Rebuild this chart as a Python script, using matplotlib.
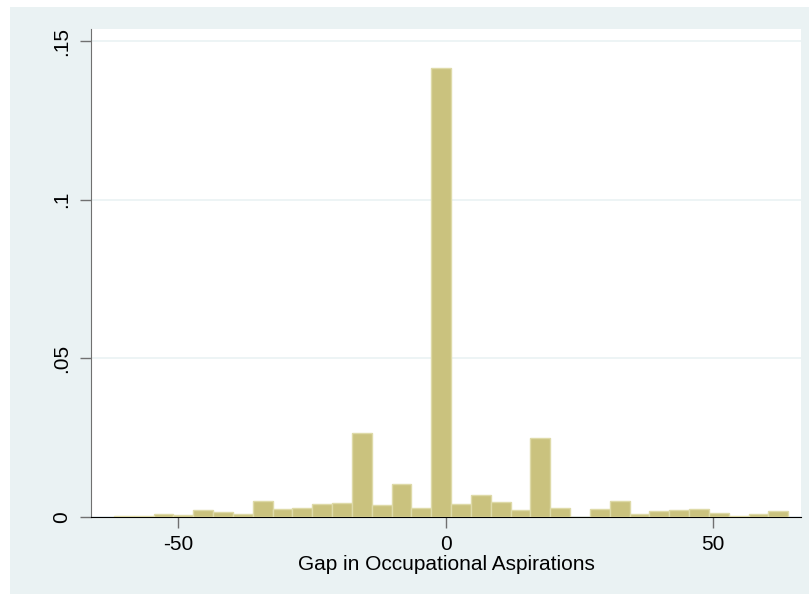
import numpy as np
import matplotlib
matplotlib.use("Agg")
import matplotlib.pyplot as plt
from matplotlib.patches import Rectangle

# histogram of the gap, 34 bins from -62 to 64
bin_lo = -62
bin_hi = 64
densite = [0.0003, 0.0003, 0.0008, 0.0004, 0.0021, 0.0015, 0.0008, 0.0051,
           0.0023, 0.0027, 0.0040, 0.0042, 0.0264, 0.0038, 0.0103, 0.0029,
           0.1414, 0.0040, 0.0068, 0.0046, 0.0021, 0.0248, 0.0029, 0.0,
           0.0023, 0.0049, 0.0007, 0.0017, 0.0020, 0.0025, 0.0013, 0.0002,
           0.0007, 0.0017]
xticks = [-50, 0, 50]
yticks = [0, 0.05, 0.1, 0.15]
yticklabels = ["0", ".05", ".1", ".15"]

plt.rcParams['font.family'] = ['Liberation Sans', 'DejaVu Sans']
plt.rcParams['axes.unicode_minus'] = False

fig = plt.figure(figsize=(8.09, 5.94), dpi=100)
fig.patch.set_facecolor("white")
# stata graph region
fig.patches.append(Rectangle((10 / 809, 0), 1, (594 - 7) / 594,
                             transform=fig.transFigure, facecolor="#EAF2F3",
                             edgecolor="none", zorder=-10))

ax = fig.add_axes([91 / 809, 1 - 516.7 / 594, (801 - 91) / 809, (516.7 - 28.7) / 594])
ax.set_facecolor("white")

edges = np.linspace(bin_lo, bin_hi, len(densite) + 1)
largeur = edges[1] - edges[0]
ax.bar(edges[:-1], densite, width=largeur, align="edge",
       color="#CAC27E", edgecolor="#DEDAA8", linewidth=1.0, zorder=3)

ax.set_xlim(-66.3, 66.4)
ax.set_ylim(0, 0.1539)

ax.set_yticks(yticks)
ax.set_yticklabels(yticklabels, rotation=90, va="center")
ax.set_xticks(xticks)
ax.grid(axis="y", color="#EAF2F3", linewidth=1.2, zorder=0)

for s in ["top", "right"]:
    ax.spines[s].set_visible(False)
ax.spines["left"].set_color("#707070")
ax.spines["bottom"].set_color("black")
ax.tick_params(axis="both", length=8, width=1, color="#707070", labelsize=15, pad=5)
ax.tick_params(axis="y", pad=6)

ax.set_xlabel("Gap in Occupational Aspirations", fontsize=15, labelpad=1)

fig.savefig("out.png", dpi=100, facecolor=fig.get_facecolor())
